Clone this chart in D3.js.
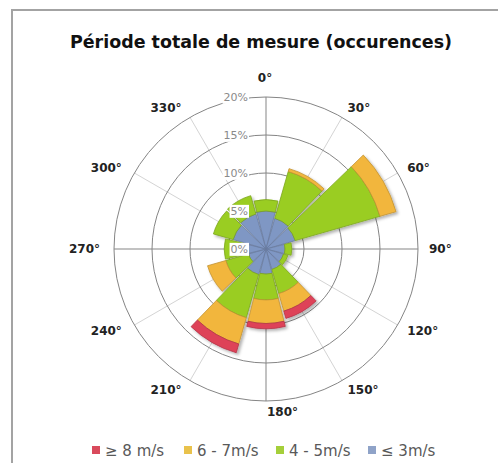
<!DOCTYPE html>
<html>
<head>
<meta charset="utf-8">
<script src="https://cdn.jsdelivr.net/npm/d3@7/dist/d3.min.js"></script>
<style>
body { margin: 0; background: #fff; }
text { font-family: "DejaVu Sans", sans-serif; }
</style>
</head>
<body>
<script>
// sectors (degrees) and share of occurrences (%) per speed class
var directions = [0, 30, 60, 90, 120, 150, 180, 210, 240, 270, 300, 330];
var calm     = [5.0, 4.2, 4.0, 2.5, 2.4, 2.8, 3.3, 3.5, 2.4, 2.8, 4.5, 4.8];   // <= 3 m/s
var moderate = [1.5, 6.4, 11.6, 0.9, 0.6, 3.3, 3.4, 5.9, 3.1, 2.7, 2.7, 2.5]; // 4 - 5 m/s
var fresh    = [0, 0.4, 2.2, 0, 0, 2.4, 3.1, 3.6, 2.5, 0, 0, 0];              // 6 - 7 m/s
var strong   = [0, 0, 0, 0, 0, 1.0, 0.7, 1.2, 0, 0, 0, 0];                    // >= 8 m/s

var classKeys = ["calm", "moderate", "fresh", "strong"];
var classColors = ["#7f97c4", "#9acd24", "#f2b63e", "#de4259"];
var legendLabels = ["\u2265 8 m/s", "6 - 7m/s", "4 - 5m/s", "\u2264 3m/s"];
var legendColors = ["#d94a5c", "#e9c24c", "#a5cf3a", "#8fa3c8"];
var radialTicks = [0, 5, 10, 15, 20];
var title = "Période totale de mesure (occurences)";

var width = 498, height = 463;
var cx = 266, cy = 249, outerR = 152;

var svg = d3.select("body").append("svg")
  .attr("width", width)
  .attr("height", height);

// drop shadow for the petals
var filt = svg.append("defs").append("filter")
  .attr("id", "shadow")
  .attr("x", "-20%").attr("y", "-20%")
  .attr("width", "140%").attr("height", "140%");
filt.append("feDropShadow")
  .attr("dx", 2).attr("dy", 2)
  .attr("stdDeviation", 1.5)
  .attr("flood-color", "#000")
  .attr("flood-opacity", 0.3);

// chart frame (cut by the picture on the right and bottom)
svg.append("path")
  .attr("d", "M12," + height + "V10H" + width)
  .attr("fill", "none")
  .attr("stroke", "#a3a3a3")
  .attr("stroke-width", 2);

svg.append("text")
  .attr("x", 261)
  .attr("y", 48)
  .attr("text-anchor", "middle")
  .attr("font-size", 17)
  .attr("font-weight", "bold")
  .attr("fill", "#111")
  .attr("textLength", 382)
  .attr("lengthAdjust", "spacingAndGlyphs")
  .text(title);

var r = d3.scaleLinear().domain([0, 20]).range([0, outerR]);

var g = svg.append("g").attr("transform", "translate(" + cx + "," + cy + ")");

// spokes every 30 degrees
var spokes = d3.range(0, 360, 30);
g.selectAll("line.spoke")
  .data(spokes.filter(function(a) { return a % 90 != 0; }))
  .enter().append("line")
  .attr("class", "spoke")
  .attr("x1", 0).attr("y1", 0)
  .attr("x2", function(a) { return r(20) * Math.sin(a * Math.PI / 180); })
  .attr("y2", function(a) { return -r(20) * Math.cos(a * Math.PI / 180); })
  .attr("stroke", "#d4d4d4")
  .attr("stroke-width", 1);

// circles
g.selectAll("circle.grid")
  .data(radialTicks.filter(function(t) { return t > 0; }))
  .enter().append("circle")
  .attr("class", "grid")
  .attr("r", function(t) { return r(t); })
  .attr("fill", "none")
  .attr("stroke", "#858585")
  .attr("stroke-width", 1);

// main axes
g.append("line").attr("x1", 0).attr("x2", 0).attr("y1", -r(20)).attr("y2", r(20))
  .attr("stroke", "#858585");
g.append("line").attr("y1", 0).attr("y2", 0).attr("x1", -r(20)).attr("x2", r(20))
  .attr("stroke", "#858585");

// stacked petals
var table = directions.map(function(d, i) {
  return { dir: d, calm: calm[i], moderate: moderate[i], fresh: fresh[i], strong: strong[i] };
});
var stacked = d3.stack().keys(classKeys)(table);

var halfWidth = 14 * Math.PI / 180;
var arc = d3.arc()
  .innerRadius(function(d) { return r(d[0]); })
  .outerRadius(function(d) { return r(d[1]); })
  .startAngle(function(d) { return d.data.dir * Math.PI / 180 - halfWidth; })
  .endAngle(function(d) { return d.data.dir * Math.PI / 180 + halfWidth; });

var petals = g.append("g").attr("filter", "url(#shadow)");
petals.selectAll("g.layer")
  .data(stacked)
  .enter().append("g")
  .attr("class", "layer")
  .attr("fill", function(d, i) { return classColors[i]; })
  .attr("stroke", function(d, i) { return d3.color(classColors[i]).darker(0.6); })
  .attr("stroke-width", 0.8)
  .selectAll("path")
  .data(function(d) { return d.filter(function(s) { return s[1] - s[0] > 0; }); })
  .enter().append("path")
  .attr("d", arc);

// radial labels with white boxes
var tickG = g.selectAll("g.rtick")
  .data(radialTicks)
  .enter().append("g")
  .attr("class", "rtick");
tickG.append("text")
  .attr("x", -18)
  .attr("y", function(t) { return -r(t); })
  .attr("dy", "0.35em")
  .attr("text-anchor", "end")
  .attr("font-size", 11)
  .attr("fill", "#8a8a8a")
  .text(function(t) { return t + "%"; });
tickG.each(function() {
  var t = d3.select(this).select("text");
  var b = t.node().getBBox();
  d3.select(this).insert("rect", "text")
    .attr("x", b.x - 1).attr("y", b.y)
    .attr("width", b.width + 2).attr("height", b.height)
    .attr("fill", "#fff");
});

// direction labels
var labelR = 163;
g.selectAll("text.dir")
  .data(spokes)
  .enter().append("text")
  .attr("class", "dir")
  .attr("x", function(a) {
    var x = labelR * Math.sin(a * Math.PI / 180);
    if (a == 0) return -1;
    if (a == 180) return 1;
    return a > 180 ? x - 3 : x;
  })
  .attr("y", function(a) {
    var y = -labelR * Math.cos(a * Math.PI / 180);
    return a == 0 ? y - 8 : y;
  })
  .attr("dy", "0.35em")
  .attr("text-anchor", function(a) {
    if (a == 0) return "middle";
    if (a == 180) return "start";
    return a < 180 ? "start" : "end";
  })
  .attr("font-size", 12)
  .attr("font-weight", "bold")
  .attr("fill", "#222")
  .text(function(a) { return a + "°"; });

// legend
var legend = svg.append("g").attr("transform", "translate(92,446)");
var item = legend.selectAll("g")
  .data(legendLabels)
  .enter().append("g")
  .attr("transform", function(d, i) { return "translate(" + (i * 92) + ",0)"; });
item.append("rect")
  .attr("width", 8).attr("height", 8)
  .attr("fill", function(d, i) { return legendColors[i]; });
item.append("text")
  .attr("x", 13)
  .attr("y", 9.5)
  .attr("font-size", 15)
  .attr("fill", "#595959")
  .text(function(d) { return d; });
</script>
</body>
</html>
